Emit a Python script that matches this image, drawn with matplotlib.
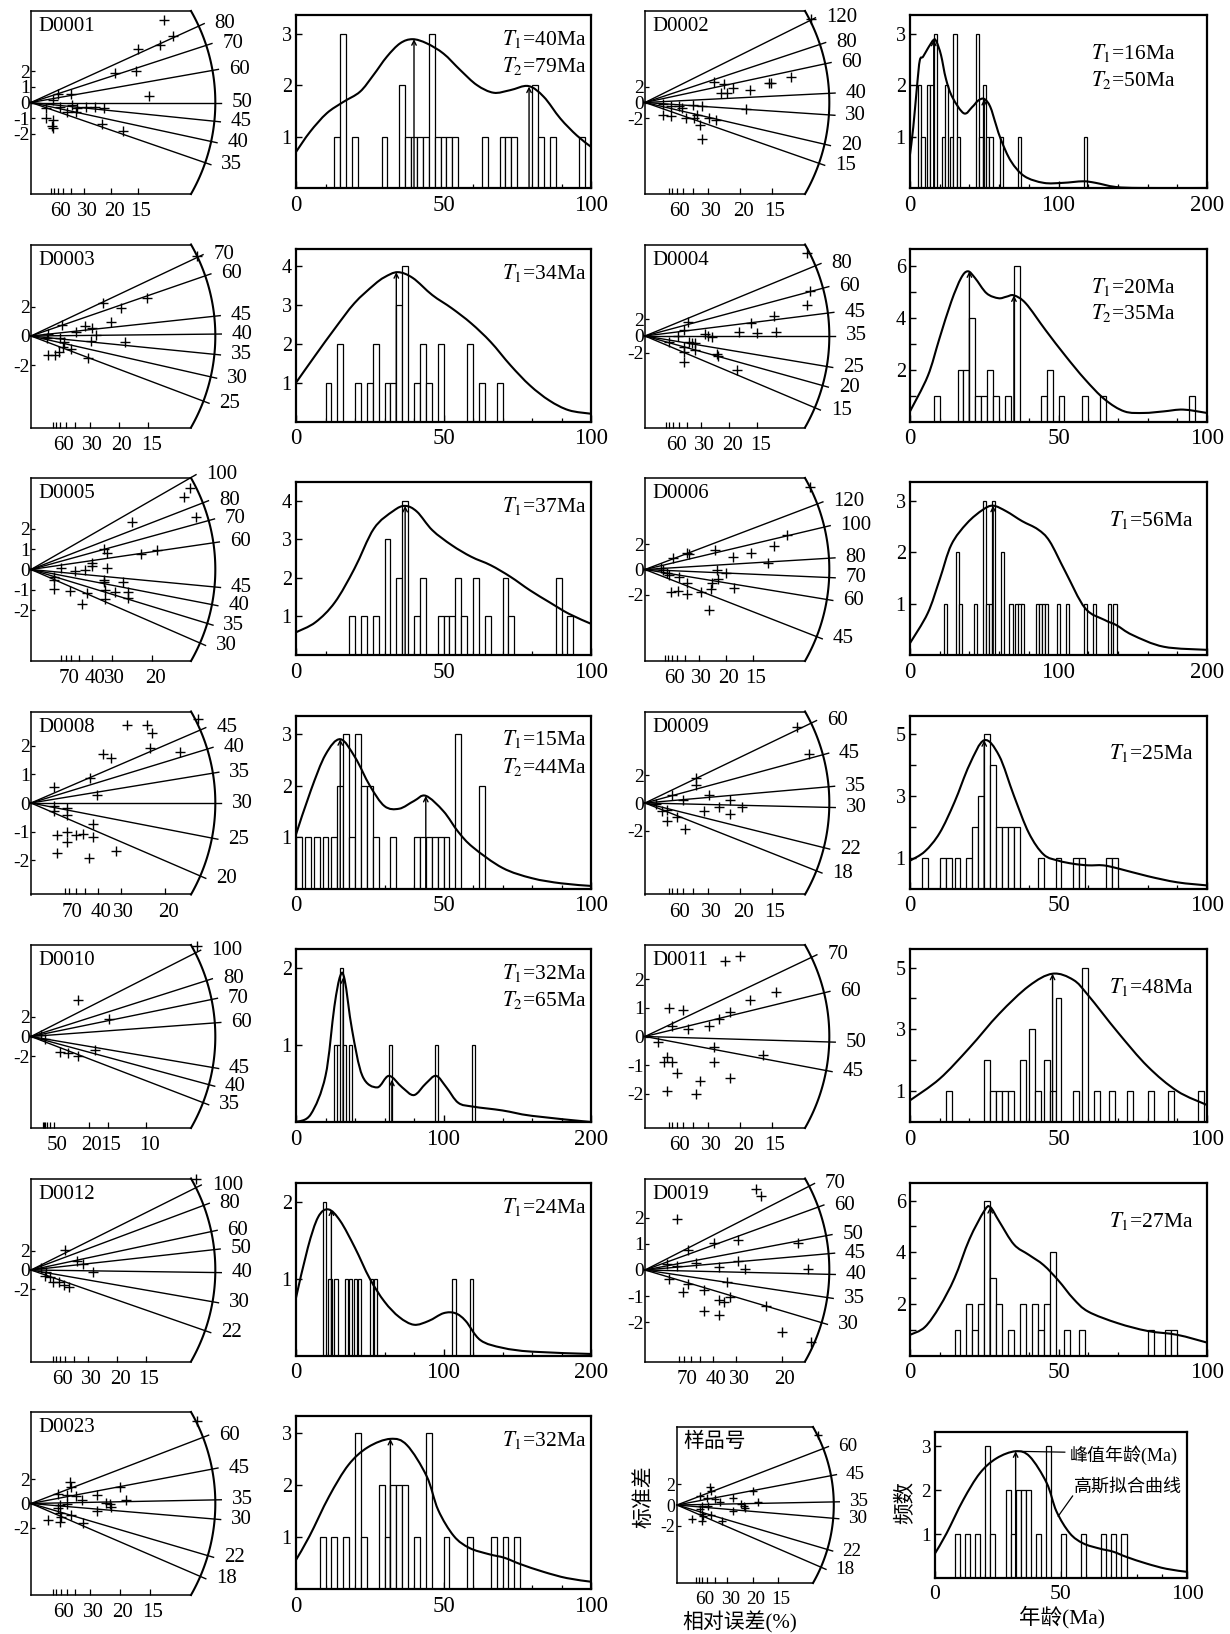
import numpy as np
import matplotlib
matplotlib.use("Agg")
import matplotlib.pyplot as plt
from matplotlib.path import Path
from matplotlib.patches import PathPatch
from matplotlib.transforms import ScaledTranslation

plt.rcParams['font.family'] = ['Liberation Serif', 'Noto Sans CJK SC', 'DejaVu Sans']
plt.rcParams['mathtext.fontset'] = 'stix'
plt.rcParams['axes.unicode_minus'] = False

# ---------------------------------------------------------------- data
# radial plots: precision (1/sigma), standardised estimate z, radial age lines (Ma)
d0001_prec = [8.29, 8.87, 8.08, 6.68, 5.22, 6.56, 7.35, 1.71, 2.48, 1.40, 0.92, 1.82, 2.55, 2.86, 3.45, 4.01, 4.57, 2.23, 2.82, 0.92, 1.40, 1.34, 1.40, 4.43, 5.78]
d0001_z = [5.32, 4.29, 3.71, 3.45, 1.93, 2.06, 0.39, 0.54, 0.54, 0.13, -0.36, -0.30, -0.15, -0.36, -0.30, -0.30, -0.36, -0.64, -0.64, -1.01, -1.12, -1.50, -1.65, -1.37, -1.82]
d0001_rays = [80, 70, 60, 50, 45, 40, 35]
d0001_bins = [13, 15, 19, 29, 35, 37, 39, 41, 43, 45, 47, 49, 51, 53, 63, 69, 71, 73, 80, 82, 86, 96]
d0001_counts = [1, 3, 1, 1, 2, 1, 1, 1, 1, 3, 1, 1, 1, 1, 1, 1, 1, 1, 2, 1, 1, 1]
d0001_curve_age = [0, 4.75, 10.4, 16, 21.7, 26.2, 30.8, 35.3, 39.5, 44.3, 50, 55.7, 61.3, 67, 72.6, 78.8, 84, 89.6, 95.2, 100]
d0001_curve_freq = [0.70, 1.09, 1.45, 1.67, 1.87, 2.19, 2.55, 2.81, 2.89, 2.81, 2.61, 2.29, 2.0, 1.85, 1.90, 1.98, 1.77, 1.35, 1.02, 0.80]
d0001_peaks = [40, 79]
d0001_peak_freq = [2.89, 1.97]

d0002_prec = [8.72, 3.61, 4.17, 4.63, 4.0, 4.28, 5.51, 6.52, 6.64, 7.66, 0.97, 1.37, 1.76, 1.94, 2.52, 2.99, 5.32, 0.97, 1.37, 2.17, 2.59, 2.73, 2.91, 3.35, 3.75, 2.99]
d0002_z = [10.8, 2.70, 2.40, 1.84, 1.20, 1.20, 1.63, 2.49, 2.49, 3.26, -0.17, -0.43, -0.43, -0.73, -0.30, -0.43, -0.86, -1.59, -1.80, -2.02, -2.02, -1.59, -2.87, -2.02, -2.32, -4.72]
d0002_rays = [120, 80, 60, 40, 30, 20, 15]
d0002_bins = [5.5, 7.7, 11.6, 13.8, 16.0, 21.5, 23.7, 27.0, 29.2, 31.4, 44.6, 46.8, 49.0, 51.2, 53.4, 60.4, 72.5, 117.0]
d0002_counts = [2, 1, 2, 2, 3, 1, 2, 1, 3, 1, 3, 1, 2, 1, 1, 1, 1, 1]
d0002_curve_age = [0, 2.2, 4.8, 6.6, 8.8, 12, 16, 18, 20.9, 24.2, 28.6, 36.3, 41.8, 46, 50, 54, 58, 61.5, 68, 77, 90, 103, 116.5, 125, 138.5, 156, 200]
d0002_curve_freq = [0.65, 1.18, 2.0, 2.48, 2.55, 2.71, 2.88, 2.83, 2.58, 2.12, 1.76, 1.45, 1.57, 1.70, 1.73, 1.58, 1.22, 0.92, 0.52, 0.23, 0.10, 0.10, 0.13, 0.10, 0.02, 0.0, 0.0]
d0002_peaks = [16, 50]
d0002_peak_freq = [2.88, 1.73]

d0003_prec = [9.45, 6.61, 4.09, 5.12, 4.54, 1.76, 3.05, 3.49, 2.54, 3.72, 0.98, 0.89, 1.65, 1.87, 3.43, 5.34, 1.82, 2.27, 1.6, 1.38, 0.98, 3.27]
d0003_z = [5.53, 2.65, 2.24, 1.96, 0.98, 0.75, 0.68, 0.52, 0.25, 0.06, 0.11, -0.16, -0.11, -0.38, -0.34, -0.38, -0.73, -0.89, -1.11, -1.34, -1.30, -1.52]
d0003_rays = [70, 60, 45, 40, 35, 30, 25]
d0003_bins = [10, 14, 20, 24, 26, 30, 32, 34, 36, 40, 42, 44, 48, 58, 62, 68]
d0003_counts = [1, 2, 1, 1, 2, 1, 1, 3, 4, 1, 2, 1, 2, 2, 1, 1]
d0003_curve_age = [0, 6.6, 13.2, 19.8, 26.4, 30, 34.5, 39.6, 46.2, 52.8, 59.4, 66, 72.7, 79.3, 85.9, 92.5, 100]
d0003_curve_freq = [1.0, 1.71, 2.40, 3.05, 3.52, 3.72, 3.85, 3.70, 3.26, 2.92, 2.53, 2.05, 1.45, 0.93, 0.54, 0.29, 0.2]
d0003_peaks = [34]
d0003_peak_freq = [3.85]

d0004_prec = [9.64, 9.80, 9.62, 7.63, 6.30, 5.60, 6.63, 7.80, 2.57, 2.33, 1.96, 3.59, 3.73, 3.97, 1.45, 2.61, 2.80, 2.96, 2.33, 2.33, 2.96, 4.29, 4.36, 5.46, 2.33]
d0004_z = [9.85, 5.36, 3.75, 2.40, 1.58, 0.51, 0.32, 0.43, 1.70, 0.71, 0.04, 0.20, 0.04, -0.16, -0.67, -0.67, -0.87, -0.79, -1.26, -1.93, -1.66, -2.17, -2.37, -4.02, -3.11]
d0004_rays = [80, 60, 45, 35, 25, 20, 15]
d0004_bins = [8, 16, 18, 20, 22, 24, 26, 28, 32, 35, 44, 46, 50, 58, 64, 94]
d0004_counts = [1, 2, 2, 4, 1, 1, 2, 1, 1, 6, 1, 2, 1, 1, 1, 1]
d0004_curve_age = [0, 6, 9.9, 13.9, 17.2, 19.5, 21.9, 25.8, 29.8, 32.5, 35, 39, 45.7, 52.3, 58.9, 65.6, 72.2, 78.8, 85.4, 92, 100]
d0004_curve_freq = [0.39, 1.76, 3.2, 4.63, 5.54, 5.80, 5.54, 4.95, 4.76, 4.82, 4.87, 4.56, 3.52, 2.54, 1.63, 0.85, 0.39, 0.33, 0.39, 0.46, 0.33]
d0004_peaks = [20, 35]
d0004_peak_freq = [5.80, 4.87]

d0005_prec = [6.57, 6.33, 6.81, 4.15, 3.02, 3.13, 5.20, 4.52, 2.53, 2.53, 3.13, 1.24, 1.81, 2.21, 0.95, 0.95, 3.02, 3.02, 3.78, 0.95, 1.61, 2.32, 3.07, 3.45, 3.99, 3.99, 3.07, 2.10]
d0005_z = [3.99, 3.55, 2.57, 2.33, 0.99, 0.83, 0.94, 0.78, 0.34, 0.18, 0.08, 0.08, -0.07, -0.03, -0.36, -0.52, -0.52, -0.63, -0.63, -0.98, -1.06, -1.17, -1.01, -1.09, -1.09, -1.38, -1.45, -1.71]
d0005_rays = [100, 80, 70, 60, 45, 40, 35, 30]
d0005_bins = [18, 22, 26, 30, 34, 36, 40, 42, 48, 50, 52, 54, 56, 60, 64, 70, 72, 88, 92]
d0005_counts = [1, 1, 1, 3, 2, 4, 1, 2, 1, 1, 1, 2, 1, 2, 1, 2, 1, 2, 1]
d0005_curve_age = [0, 6.6, 13.2, 19.8, 26.4, 33, 37, 41, 46.2, 52.8, 59.4, 66, 72.7, 79.3, 85.9, 92.5, 100]
d0005_curve_freq = [0.59, 0.85, 1.37, 2.24, 3.28, 3.74, 3.87, 3.72, 3.24, 2.85, 2.55, 2.33, 2.03, 1.68, 1.37, 1.07, 0.81]
d0005_peaks = [37]
d0005_peak_freq = [3.87]

d0006_prec = [10.2, 8.76, 7.96, 6.58, 7.60, 4.36, 2.59, 2.71, 1.74, 5.42, 4.45, 5.01, 0.97, 1.14, 1.38, 2.11, 2.59, 4.53, 4.16, 4.11, 5.49, 3.44, 1.62, 2.03, 2.59, 3.97, 1.50]
d0006_z = [6.46, 2.70, 1.85, 1.33, 0.52, 1.51, 1.33, 1.25, 0.94, 0.99, 0.0, -0.31, 0.13, -0.05, -0.31, -0.57, -1.09, -0.76, -1.09, -1.54, -1.48, -1.74, -1.80, -1.69, -1.95, -3.18, -0.44]
d0006_rays = [120, 100, 80, 70, 60, 45]
d0006_bins = [23, 31, 33, 43, 49, 51, 53, 55, 61, 67, 71, 73, 75, 85, 87, 89, 91, 99, 105, 117, 123, 133, 137]
d0006_counts = [1, 2, 1, 1, 3, 1, 1, 3, 2, 1, 1, 1, 1, 1, 1, 1, 1, 1, 1, 1, 1, 1, 1]
d0006_curve_age = [0, 11.9, 19.9, 27.8, 38.4, 49, 56, 64.9, 75.5, 86.1, 94, 104.6, 117.9, 131.1, 139, 149.7, 170.9, 200]
d0006_curve_freq = [0.23, 0.81, 1.46, 2.14, 2.56, 2.82, 2.90, 2.79, 2.60, 2.44, 2.21, 1.62, 0.91, 0.68, 0.58, 0.39, 0.16, 0.10]
d0006_peaks = [56]
d0006_peak_freq = [2.90]

d0008_prec = [3.56, 4.31, 4.50, 4.41, 5.55, 6.20, 2.66, 2.97, 2.20, 2.45, 0.87, 0.87, 0.87, 1.33, 1.33, 2.32, 2.32, 0.98, 1.33, 1.33, 1.68, 1.93, 0.98, 2.14, 3.17]
d0008_z = [2.74, 2.74, 2.44, 1.92, 1.80, 2.94, 1.71, 1.57, 0.87, 0.29, 0.55, -0.12, -0.29, -0.17, -0.43, -0.73, -1.20, -1.13, -1.01, -1.36, -1.13, -1.08, -1.75, -1.94, -1.69]
d0008_rays = [45, 40, 35, 30, 25, 20]
d0008_bins = [0, 3, 6, 9, 12, 14, 16, 18, 20, 22, 24, 26, 32, 40, 42, 44, 46, 48, 50, 54, 62]
d0008_counts = [1, 1, 1, 1, 1, 2, 3, 1, 3, 2, 2, 1, 1, 1, 1, 1, 1, 1, 1, 3, 2]
d0008_curve_age = [0, 5, 10, 15, 20, 25, 30, 35, 40, 44, 50, 55, 60, 70, 80, 90, 100]
d0008_curve_freq = [1.05, 1.9, 2.6, 2.9, 2.55, 2.0, 1.6, 1.55, 1.7, 1.8, 1.5, 1.1, 0.8, 0.4, 0.2, 0.1, 0.05]
d0008_peaks = [15, 44]
d0008_peak_freq = [2.9, 1.8]

d0009_prec = [8.0, 8.6, 2.7, 2.7, 1.4, 2.0, 3.35, 4.45, 3.9, 0.6, 1.15, 1.7, 3.1, 4.45, 1.15, 2.1, 0.9, 5.1]
d0009_z = [5.5, 3.5, 1.8, 1.3, 0.6, 0.2, 0.6, 0.2, -0.3, -0.1, -0.5, -1.0, -0.6, -0.8, -1.3, -1.9, -0.6, -0.3]
d0009_rays = [60, 45, 35, 30, 22, 18]
d0009_bins = [4, 10, 12, 15, 19, 21, 23, 25, 27, 29, 31, 33, 35, 43, 49, 55, 57, 66, 68]
d0009_counts = [1, 1, 1, 1, 1, 2, 3, 5, 4, 2, 2, 2, 2, 1, 1, 1, 1, 1, 1]
d0009_curve_age = [0, 5, 10, 15, 20, 25, 30, 35, 40, 45, 50, 55, 60, 65, 70, 80, 90, 100]
d0009_curve_freq = [0.9, 1.2, 1.8, 2.8, 4.0, 4.8, 4.3, 3.0, 1.8, 1.1, 0.9, 0.8, 0.75, 0.75, 0.65, 0.4, 0.2, 0.1]
d0009_peaks = [25]
d0009_peak_freq = [4.8]

d0010_prec = [4.1, 6.8, 0.9, 1.2, 2.5, 3.2, 4.1, 5.6, 14.4]
d0010_z = [3.7, 1.8, 0.2, -0.3, -1.6, -1.7, -2.0, -1.4, 9.2]
d0010_rays = [100, 80, 70, 60, 45, 40, 35]
d0010_bins = [26, 28, 30, 32, 36, 63, 94, 119]
d0010_counts = [1, 1, 2, 1, 1, 1, 1, 1]
d0010_curve_age = [0, 10, 20, 26, 30, 33, 38, 45, 55, 63, 72, 80, 88, 95, 102, 110, 120, 140, 160, 200]
d0010_curve_freq = [0.0, 0.1, 0.6, 1.5, 1.9, 1.85, 1.2, 0.6, 0.45, 0.6, 0.45, 0.35, 0.5, 0.6, 0.45, 0.25, 0.2, 0.15, 0.08, 0.0]
d0010_peaks = [32, 65]
d0010_peak_freq = [1.88, 0.55]

d0011_prec = [4.2, 5.0, 6.9, 1.26, 1.98, 1.43, 2.25, 3.35, 3.9, 4.45, 5.5, 0.7, 1.15, 1.43, 3.6, 3.6, 1.7, 1.15, 2.7, 2.9, 4.45, 6.2, 1.0]
d0011_z = [2.65, 2.8, 1.56, 0.98, 0.91, 0.36, 0.25, 0.36, 0.62, 0.84, 1.27, -0.2, -0.73, -0.9, -0.36, -0.9, -1.27, -1.9, -2.0, -1.56, -1.45, -0.65, -0.9]
d0011_rays = [70, 60, 50, 45]
d0011_bins = [12, 25, 27, 29, 31, 33, 37, 40, 42, 45, 47, 49, 55, 58, 62, 67, 73, 80, 87, 97]
d0011_counts = [1, 2, 1, 1, 1, 1, 2, 3, 1, 2, 1, 4, 1, 5, 1, 1, 1, 1, 1, 1]
d0011_curve_age = [0, 10, 20, 30, 40, 48, 55, 60, 70, 80, 90, 100]
d0011_curve_freq = [0.7, 1.4, 2.4, 3.5, 4.4, 4.8, 4.6, 4.1, 2.9, 1.8, 1.0, 0.55]
d0011_peaks = [48]
d0011_peak_freq = [4.8]

d0012_prec = [2.0, 2.7, 3.0, 3.6, 0.6, 0.9, 1.1, 1.3, 1.6, 1.9, 2.2, 0.8, 9.6]
d0012_z = [2.1, 0.9, 0.6, -0.25, 0.25, -0.25, -0.75, -1.25, -1.25, -1.6, -1.75, -0.6, 9.5]
d0012_rays = [100, 80, 60, 50, 40, 30, 22]
d0012_bins = [18, 22, 26, 33, 36, 39, 42, 50, 53, 106, 118]
d0012_counts = [2, 1, 1, 1, 1, 1, 1, 1, 1, 1, 1]
d0012_curve_age = [0, 8, 15, 22, 30, 40, 50, 60, 70, 80, 90, 100, 108, 115, 125, 140, 160, 200]
d0012_curve_freq = [0.75, 1.4, 1.8, 1.9, 1.75, 1.4, 1.0, 0.7, 0.5, 0.4, 0.45, 0.55, 0.55, 0.45, 0.2, 0.1, 0.05, 0.02]
d0012_peaks = [24]
d0012_peak_freq = [1.9]

d0019_prec = [4.05, 4.24, 1.18, 2.52, 3.4, 5.57, 1.56, 0.8, 1.18, 1.87, 2.71, 3.4, 3.66, 5.95, 0.88, 1.56, 1.37, 2.14, 3.0, 2.71, 2.9, 3.1, 4.43, 2.14, 2.71, 5.0, 6.07]
d0019_z = [3.08, 2.84, 1.96, 1.04, 1.16, 1.04, 0.76, 0.24, 0.16, 0.28, 0.12, 0.36, 0.04, 0.04, -0.36, -0.52, -0.84, -0.76, -0.44, -1.16, -1.24, -1.04, -1.36, -1.56, -1.72, -2.36, -2.76]
d0019_rays = [70, 60, 50, 45, 40, 35, 30]
d0019_bins = [15, 19, 21, 23, 25, 27, 29, 33, 37, 41, 43, 45, 47, 52, 57, 80, 86, 88]
d0019_counts = [1, 2, 1, 2, 6, 3, 2, 1, 2, 2, 1, 2, 4, 1, 1, 1, 1, 1]
d0019_curve_age = [0, 5, 10, 15, 20, 25, 27, 30, 35, 40, 45, 50, 55, 60, 70, 80, 90, 100]
d0019_curve_freq = [0.8, 1.1, 1.9, 3.0, 4.5, 5.6, 5.75, 5.2, 4.3, 3.9, 3.5, 2.9, 2.2, 1.7, 1.25, 0.95, 0.8, 0.5]
d0019_peaks = [27]
d0019_peak_freq = [5.75]

d0023_prec = [9.34, 2.2, 2.25, 1.5, 2.0, 2.54, 2.86, 3.7, 5.02, 4.23, 4.42, 4.51, 5.36, 1.63, 2.05, 3.7, 1.63, 1.69, 2.25, 0.98, 1.63, 2.95, 1.5]
d0023_z = [6.85, 1.8, 1.38, 0.83, 0.69, 0.61, 0.28, 0.69, 1.38, 0.08, -0.08, -0.28, 0.33, -0.14, -0.08, -0.61, -0.83, -1.11, -0.97, -1.38, -1.52, -1.6, -0.41]
d0023_rays = [60, 45, 35, 30, 22, 18]
d0023_bins = [8, 12, 16, 20, 22, 28, 30, 32, 34, 36, 40, 44, 50, 58, 66, 70, 74]
d0023_counts = [1, 1, 1, 3, 1, 2, 1, 2, 2, 2, 1, 3, 1, 1, 1, 1, 1]
d0023_curve_age = [0, 4.6, 11.2, 17.8, 24.4, 32, 37.6, 44.3, 48.2, 53.5, 58.8, 65.4, 70.7, 76, 83.9, 91.8, 100]
d0023_curve_freq = [0.56, 1.02, 1.78, 2.39, 2.73, 2.89, 2.77, 2.17, 1.52, 1.02, 0.79, 0.67, 0.60, 0.48, 0.33, 0.21, 0.14]
d0023_peaks = [32]
d0023_peak_freq = [2.89]

# per-sample settings: reference age of the horizontal line, axis ranges, ticks
ERR_STD = [80, 70, 60, 50, 40, 30, 20, 15]
ERR_STD_LAB = [60, 30, 20, 15]
ERR_B = [80, 70, 60, 50, 40, 30, 20]
ERR_B_LAB = [70, 40, 30, 20]

SAMPLES = [
    dict(name='D0001', prec=d0001_prec, z=d0001_z, rays=d0001_rays, t0=50, xmax=10, zmax=5.9, zt=[2, 1, 0, -1, -2], et=ERR_STD, el=ERR_STD_LAB,
         bins=d0001_bins, counts=d0001_counts, bw=2, ca=d0001_curve_age, cf=d0001_curve_freq, pk=d0001_peaks, pf=d0001_peak_freq,
         amax=100, ymax=3.36, yt=[1, 2, 3], yl=[1, 2, 3]),
    dict(name='D0002', prec=d0002_prec, z=d0002_z, rays=d0002_rays, t0=35.4, xmax=8.4, zmax=11.8, zt=[2, 0, -2], et=ERR_STD, el=ERR_STD_LAB,
         bins=d0002_bins, counts=d0002_counts, bw=2.2, ca=d0002_curve_age, cf=d0002_curve_freq, pk=d0002_peaks, pf=d0002_peak_freq,
         amax=200, ymax=3.36, yt=[1, 2, 3], yl=[1, 2, 3]),
    dict(name='D0003', prec=d0003_prec, z=d0003_z, rays=d0003_rays, t0=39.5, xmax=9.1, zmax=6.3, zt=[2, 0, -2], et=ERR_STD, el=ERR_STD_LAB,
         bins=d0003_bins, counts=d0003_counts, bw=2, ca=d0003_curve_age, cf=d0003_curve_freq, pk=d0003_peaks, pf=d0003_peak_freq,
         amax=100, ymax=4.46, yt=[1, 2, 3, 4], yl=[1, 2, 3, 4]),
    dict(name='D0004', prec=d0004_prec, z=d0004_z, rays=d0004_rays, t0=35, xmax=9.5, zmax=10.9, zt=[2, 0, -2], et=ERR_STD, el=ERR_STD_LAB,
         bins=d0004_bins, counts=d0004_counts, bw=2, ca=d0004_curve_age, cf=d0004_curve_freq, pk=d0004_peaks, pf=d0004_peak_freq,
         amax=100, ymax=6.68, yt=[1, 2, 3, 4, 5, 6], yl=[2, 4, 6]),
    dict(name='D0005', prec=d0005_prec, z=d0005_z, rays=d0005_rays, t0=50.4, xmax=6.6, zmax=4.5, zt=[2, 1, 0, -1, -2], et=ERR_B, el=ERR_B_LAB,
         bins=d0005_bins, counts=d0005_counts, bw=2, ca=d0005_curve_age, cf=d0005_curve_freq, pk=d0005_peaks, pf=d0005_peak_freq,
         amax=100, ymax=4.49, yt=[1, 2, 3, 4], yl=[1, 2, 3, 4]),
    dict(name='D0006', prec=d0006_prec, z=d0006_z, rays=d0006_rays, t0=74, xmax=9.9, zmax=7.2, zt=[2, 0, -2], et=ERR_STD, el=ERR_STD_LAB,
         bins=d0006_bins, counts=d0006_counts, bw=2.1, ca=d0006_curve_age, cf=d0006_curve_freq, pk=d0006_peaks, pf=d0006_peak_freq,
         amax=200, ymax=3.36, yt=[1, 2, 3], yl=[1, 2, 3]),
    dict(name='D0008', prec=d0008_prec, z=d0008_z, rays=d0008_rays, t0=30, xmax=5.95, zmax=3.2, zt=[2, 1, 0, -1, -2], et=ERR_B, el=ERR_B_LAB,
         bins=d0008_bins, counts=d0008_counts, bw=2, ca=d0008_curve_age, cf=d0008_curve_freq, pk=d0008_peaks, pf=d0008_peak_freq,
         amax=100, ymax=3.36, yt=[1, 2, 3], yl=[1, 2, 3]),
    dict(name='D0009', prec=d0009_prec, z=d0009_z, rays=d0009_rays, t0=31, xmax=8.4, zmax=6.6, zt=[2, 0, -2], et=ERR_STD, el=ERR_STD_LAB,
         bins=d0009_bins, counts=d0009_counts, bw=2, ca=d0009_curve_age, cf=d0009_curve_freq, pk=d0009_peaks, pf=d0009_peak_freq,
         amax=100, ymax=5.6, yt=[1, 2, 3, 4, 5], yl=[1, 3, 5]),
    dict(name='D0010', prec=d0010_prec, z=d0010_z, rays=d0010_rays, t0=55, xmax=13.9, zmax=9.35, zt=[2, 0, -2],
         et=[100, 90, 80, 70, 60, 50, 20, 15, 10], el=[50, 20, 15, 10],
         bins=d0010_bins, counts=d0010_counts, bw=2.2, ca=d0010_curve_age, cf=d0010_curve_freq, pk=d0010_peaks, pf=d0010_peak_freq,
         amax=200, ymax=2.25, yt=[1, 2], yl=[1, 2]),
    dict(name='D0011', prec=d0011_prec, z=d0011_z, rays=d0011_rays, t0=51, xmax=8.4, zmax=3.2, zt=[2, 1, 0, -1, -2], et=ERR_STD, el=ERR_STD_LAB,
         bins=d0011_bins, counts=d0011_counts, bw=2, ca=d0011_curve_age, cf=d0011_curve_freq, pk=d0011_peaks, pf=d0011_peak_freq,
         amax=100, ymax=5.6, yt=[1, 2, 3, 4, 5], yl=[1, 3, 5]),
    dict(name='D0012', prec=d0012_prec, z=d0012_z, rays=d0012_rays, t0=41, xmax=9.3, zmax=9.5, zt=[2, 0, -2], et=ERR_STD, el=ERR_STD_LAB,
         bins=d0012_bins, counts=d0012_counts, bw=2.2, ca=d0012_curve_age, cf=d0012_curve_freq, pk=d0012_peaks, pf=d0012_peak_freq,
         amax=200, ymax=2.25, yt=[1, 2], yl=[1, 2]),
    dict(name='D0019', prec=d0019_prec, z=d0019_z, rays=d0019_rays, t0=41, xmax=5.84, zmax=3.5, zt=[2, 1, 0, -1, -2], et=ERR_B, el=ERR_B_LAB,
         bins=d0019_bins, counts=d0019_counts, bw=2, ca=d0019_curve_age, cf=d0019_curve_freq, pk=d0019_peaks, pf=d0019_peak_freq,
         amax=100, ymax=6.7, yt=[1, 2, 3, 4, 5, 6], yl=[2, 4, 6]),
    dict(name='D0023', prec=d0023_prec, z=d0023_z, rays=d0023_rays, t0=34, xmax=9.0, zmax=7.6, zt=[2, 0, -2], et=ERR_STD, el=ERR_STD_LAB,
         bins=d0023_bins, counts=d0023_counts, bw=2, ca=d0023_curve_age, cf=d0023_curve_freq, pk=d0023_peaks, pf=d0023_peak_freq,
         amax=100, ymax=3.33, yt=[1, 2, 3], yl=[1, 2, 3]),
]

# ---------------------------------------------------------------- layout helpers
FW, FH = 1230, 1634
fig = plt.figure(figsize=(FW / 100, FH / 100), dpi=100)


def add_ax(x, y, w, h):
    return fig.add_axes([x / FW, 1 - (y + h) / FH, w / FW, h / FH])


def smooth_path(xs, ys):
    p = np.column_stack([xs, ys]).astype(float)
    n = len(p)
    verts = [p[0]]
    codes = [Path.MOVETO]
    for i in range(n - 1):
        p0 = p[i - 1] if i > 0 else p[i]
        p1, p2 = p[i], p[i + 1]
        p3 = p[i + 2] if i + 2 < n else p[i + 1]
        verts += [p1 + (p2 - p0) / 6.0, p2 - (p3 - p1) / 6.0, p2]
        codes += [Path.CURVE4] * 3
    return Path(verts, codes)


def radial_plot(x0, y0, w, h, s, k=1.0, title=None, title_fs=None):
    ax = add_ax(x0, y0, w, h)
    ax.set_xlim(0, s['xmax'])
    ax.set_ylim(-s['zmax'], s['zmax'])
    sx = w / s['xmax']
    sy = (h / 2) / s['zmax']
    R = np.hypot(w, h / 2)
    ax.spines['right'].set_visible(False)
    for sp in ['left', 'top', 'bottom']:
        ax.spines[sp].set_linewidth(1.1)
    thm = np.arcsin((h / 2) / R)
    th = np.linspace(-thm, thm, 120)
    ax.plot(R * np.cos(th) / sx, R * np.sin(th) / sy, color='k', lw=1.5, clip_on=False)
    for t in s['rays']:
        m = np.log(t / s['t0'])
        L = np.hypot(sx, sy * m)
        se = (R + 6 * k) / L
        ax.plot([0, se], [0, se * m], color='k', lw=1.0, clip_on=False)
        ax.annotate(str(t), xy=(se, se * m), xytext=(7.5 * k, 0), textcoords='offset points',
                    ha='left', va='center', fontsize=15 * k, annotation_clip=False)
    ax.plot(s['prec'], s['z'], '+', color='k', ms=6.5 * k, mew=1.0, clip_on=False)
    ax.set_yticks(s['zt'])
    ax.set_yticklabels([str(v) for v in s['zt']])
    ax.set_xticks([100.0 / e for e in s['et']])
    ax.set_xticklabels([str(e) if e in s['el'] else '' for e in s['et']])
    ax.tick_params(axis='y', direction='in', length=3, width=0.9, labelsize=14 * k, pad=1)
    ax.tick_params(axis='x', direction='in', length=4, width=0.9, labelsize=15 * k, pad=6)
    shift = ScaledTranslation(3 / 100, 0, fig.dpi_scale_trans)
    for lab in ax.get_xticklabels():
        lab.set_transform(lab.get_transform() + shift)
    ax.text(0.045, 0.965, title if title else s['name'], transform=ax.transAxes,
            ha='left', va='top', fontsize=title_fs if title_fs else 15 * k)
    return ax


def hist_plot(x0, y0, w, h, s, k=1.0, text_right=6, text_top=24, show_t=True):
    ax = add_ax(x0, y0, w, h)
    ax.bar(s['bins'], s['counts'], width=s['bw'], align='edge', color='white',
           edgecolor='k', linewidth=0.9, zorder=2)
    ax.add_patch(PathPatch(smooth_path(s['ca'], s['cf']), fill=False, lw=1.5, edgecolor='k', zorder=3))
    for a, f in zip(s['pk'], s['pf']):
        ax.annotate('', xy=(a, f), xytext=(a, 0),
                    arrowprops=dict(arrowstyle='->', lw=1.0, color='k', shrinkA=0, shrinkB=0,
                                    mutation_scale=8), zorder=4)
    ax.set_xlim(0, s['amax'])
    ax.set_ylim(0, s['ymax'])
    am = s['amax']
    ax.set_xticks([0, am / 2, am])
    ax.set_xticklabels([str(int(v)) for v in [0, am / 2, am]])
    ax.set_xticks(np.arange(0, am + 1, am / 10), minor=True)
    ax.set_yticks(s['yt'])
    ax.set_yticklabels([str(v) if v in s['yl'] else '' for v in s['yt']])
    ax.tick_params(axis='x', which='major', direction='in', length=5, width=1, labelsize=16.5 * k, pad=5)
    ax.tick_params(axis='x', which='minor', direction='in', length=3, width=0.9)
    ax.tick_params(axis='y', direction='in', length=4, width=1, labelsize=14.5 * k, pad=3)
    for sp in ax.spines.values():
        sp.set_linewidth(1.6)
    if show_t:
        for i, a in enumerate(s['pk']):
            ax.text(1 - text_right / w, 1 - (text_top + 27 * i) / h, r'$T_{%d}$=%dMa' % (i + 1, a),
                    transform=ax.transAxes, ha='right', va='center', fontsize=15.5)
    return ax


# ---------------------------------------------------------------- draw grid
ROW = 233.5
RAD_X = [31, 645]
HIST_X = [296, 910]
for i, s in enumerate(SAMPLES):
    r, c = divmod(i, 2)
    radial_plot(RAD_X[c], 11 + r * ROW, 160, 183, s)
    if c == 0:
        hist_plot(HIST_X[c], 15 + r * ROW, 295, 173, s, text_right=5, text_top=24)
    else:
        hist_plot(HIST_X[c], 15 + r * ROW, 297, 173, s,
                  text_right=32 if len(s['pk']) > 1 else 14, text_top=38)

# ---------------------------------------------------------------- legend panel (explanation)
leg = SAMPLES[-1]
axr = radial_plot(677, 1427, 136, 156, leg, k=0.92, title='样品号', title_fs=15)
fig.text(645 / FW, 1 - 1497 / FH, '标准差', rotation=90, ha='center', va='center', fontsize=15)
fig.text(740 / FW, 1 - 1622 / FH, '相对误差(%)', ha='center', va='center', fontsize=15)

axh = hist_plot(935, 1432, 252, 146, leg, k=0.95, show_t=False)
fig.text(905 / FW, 1 - 1503 / FH, '频数', rotation=90, ha='center', va='center', fontsize=15.5)
fig.text(1062 / FW, 1 - 1617 / FH, '年龄(Ma)', ha='center', va='center', fontsize=15.5)
pk_a, pk_f = leg['pk'][0], leg['pf'][0]
axh.plot([pk_a, 51.5], [pk_f, pk_f - 0.02], color='k', lw=0.9, clip_on=False)
axh.text(53.5, 2.8, '峰值年龄(Ma)', ha='left', va='center', fontsize=13, clip_on=False)
axh.plot([54.6, 48.9], [1.87, 1.41], color='k', lw=0.9)
axh.text(55.0, 2.08, '高斯拟合曲线', ha='left', va='center', fontsize=13, clip_on=False)

fig.savefig('out.png', dpi=100)
